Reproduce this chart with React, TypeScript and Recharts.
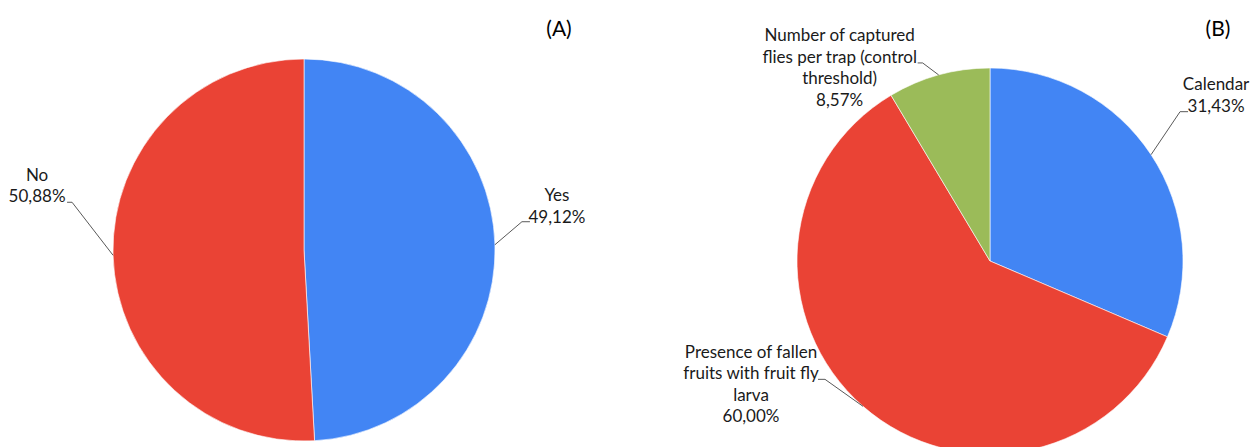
import React from "react";
import { PieChart, Pie, Cell } from "recharts";

// Chart (A)
const categoriesA = ["Yes", "No"];
const valuesA = [49.12, 50.88];
const colorsA = ["#4285F4", "#EA4335"];

// Chart (B)
const categoriesB = [
  "Calendar",
  "Presence of fallen\nfruits with fruit fly\nlarva",
  "Number of captured\nflies per trap (control\nthreshold)",
];
const valuesB = [31.43, 60.0, 8.57];
const colorsB = ["#4285F4", "#EA4335", "#9BBB59"];

const titles = ["(A)", "(B)"];

// label layout: elbow offset from edge point, end offset from elbow, text centre offset from end, last baseline offset
type LabelLayout = { ex: number; ey: number; hx: number; tx: number; ty: number };
const layoutA: LabelLayout[] = [
  { ex: 27, ey: -23, hx: 8, tx: 27, ty: 1 },
  { ex: -41, ey: -53, hx: -5, tx: -30, ty: 0 },
];
const layoutB: LabelLayout[] = [
  { ex: 29, ey: -43, hx: 8, tx: 28, ty: 0 },
  { ex: -38, ey: -27, hx: -7, tx: -67, ty: 43 },
  { ex: -16, ey: -12, hx: -5, tx: -78, ty: 43 },
];

const FONT = "Lato, 'Open Sans', sans-serif";
const RAD = Math.PI / 180;

const fmt = (v: number) => v.toFixed(2).replace(".", ",") + "%";

const makeData = (cats: string[], vals: number[]) =>
  cats.map((c, i) => ({ name: c, value: vals[i] }));

const dataA = makeData(categoriesA, valuesA);
const dataB = makeData(categoriesB, valuesB);

const makeLabel = (layout: LabelLayout[]) => (props: any) => {
  const { cx, cy, midAngle, outerRadius, index, name, value } = props;
  const L = layout[index];
  const px = cx + outerRadius * Math.cos(-midAngle * RAD);
  const py = cy + outerRadius * Math.sin(-midAngle * RAD);
  const ex = px + L.ex;
  const ey = py + L.ey;
  const hx = ex + L.hx;
  const lines = [...String(name).split("\n"), fmt(value)];
  const lh = 21.5;
  const lastY = ey + L.ty;
  const tcx = hx + L.tx;
  return (
    <g>
      <polyline
        points={`${px},${py} ${ex},${ey} ${hx},${ey}`}
        fill="none"
        stroke="#595959"
        strokeWidth={1}
      />
      <text
        x={tcx}
        y={lastY}
        textAnchor="middle"
        fontFamily={FONT}
        fontSize={17}
        fill="#1a1a1a"
      >
        {lines.map((ln, i) => (
          <tspan key={i} x={tcx} y={lastY - (lines.length - 1 - i) * lh}>
            {ln}
          </tspan>
        ))}
      </text>
    </g>
  );
};

export default function App() {
  return (
    <div style={{ position: "absolute", left: 0, top: 0, width: 1251, height: 447, background: "#fff" }}>
      <PieChart width={1251} height={447} margin={{ top: 0, right: 0, bottom: 0, left: 0 }}>
        <Pie
          data={dataA}
          dataKey="value"
          nameKey="name"
          cx={304}
          cy={250}
          outerRadius={191}
          startAngle={90}
          endAngle={-270}
          stroke="#ffffff"
          strokeWidth={0.6}
          isAnimationActive={false}
          labelLine={false}
          label={makeLabel(layoutA)}
        >
          {dataA.map((d, i) => (
            <Cell key={d.name} fill={colorsA[i]} />
          ))}
        </Pie>
        <Pie
          data={dataB}
          dataKey="value"
          nameKey="name"
          cx={990}
          cy={261}
          outerRadius={193}
          startAngle={90}
          endAngle={-270}
          stroke="#ffffff"
          strokeWidth={0.6}
          isAnimationActive={false}
          labelLine={false}
          label={makeLabel(layoutB)}
        >
          {dataB.map((d, i) => (
            <Cell key={i} fill={colorsB[i]} />
          ))}
        </Pie>
        <text x={559} y={36} textAnchor="middle" fontFamily={FONT} fontSize={21} fill="#000">
          {titles[0]}
        </text>
        <text x={1218} y={36} textAnchor="middle" fontFamily={FONT} fontSize={21} fill="#000">
          {titles[1]}
        </text>
      </PieChart>
    </div>
  );
}
